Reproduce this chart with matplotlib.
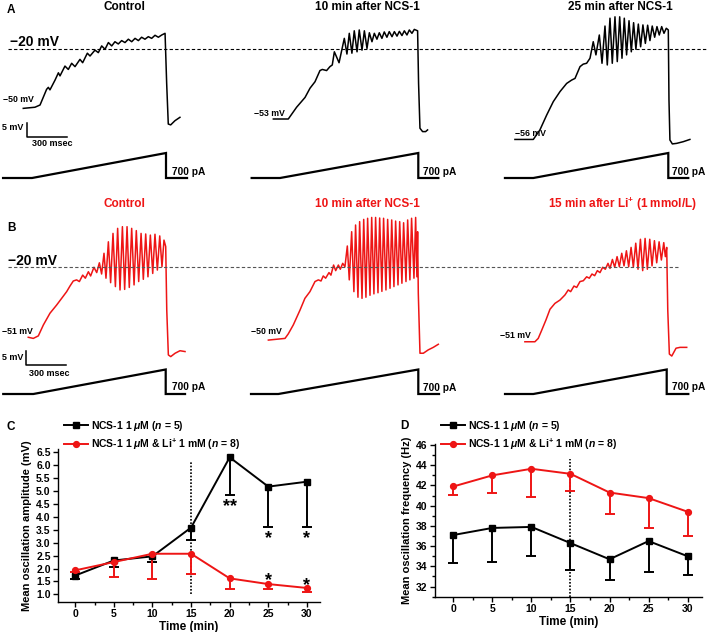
import matplotlib
matplotlib.use('Agg')
import matplotlib.pyplot as plt
from matplotlib.lines import Line2D
import matplotlib.transforms as mtransforms
from matplotlib.ticker import MultipleLocator

plt.rcParams['font.family'] = ['Liberation Sans', 'DejaVu Sans']
plt.rcParams['font.weight'] = 'bold'
plt.rcParams['mathtext.fontset'] = 'custom'
plt.rcParams['mathtext.rm'] = 'Liberation Sans:bold'
plt.rcParams['mathtext.it'] = 'Liberation Sans:italic:bold'
plt.rcParams['mathtext.bf'] = 'Liberation Sans:bold'
plt.rcParams['axes.unicode_minus'] = True

# ------------------------------------------------------------------ data
# voltage traces: (time ms from ramp start, membrane potential mV)
A1 = [(-65, -41.2), (22, -40.8), (60, -40), (109, -34.4), (122, -33.7), (134, -34.6),
      (172, -31.1), (197, -28.5), (209, -29.6), (246, -26.1), (271, -27.3), (296, -25.1),
      (321, -26.3), (358, -23.7), (378, -24.9), (413, -21.5), (433, -22.5), (470, -20.4),
      (495, -21.3), (520, -18.9), (545, -20.1), (570, -17.7), (595, -18.9), (619, -17.4),
      (644, -18.2), (669, -17), (694, -17.7), (719, -16.5), (744, -17.4), (769, -16.2),
      (794, -17), (818, -15.8), (843, -16.5), (868, -15.6), (893, -16.2), (918, -15.1),
      (943, -15.8), (968, -15), (993, -14.4), (1005, -32.3), (1017, -46.8), (1035, -47.1),
      (1067, -45.6), (1104, -44.4)]
A2 = [(-48, -45), (60, -45), (120, -40.8), (181, -37.3), (217, -34), (253, -31.7),
      (289, -27.7), (306, -27.3), (337, -27.7), (361, -26.3), (378, -25.7),
      (393, -21), (427, -24.9), (465, -16.2), (484, -21.8), (501, -14.4), (520, -21.5),
      (537, -13.5), (557, -21), (573, -13.2), (593, -20.4), (610, -13.5), (629, -19.8),
      (646, -14.2), (665, -17.4), (682, -14.4), (701, -16.5), (718, -14.2), (737, -16.2),
      (754, -13.9), (773, -15.8), (790, -13.8), (810, -15.6), (827, -13.8), (846, -15.4),
      (863, -13.7), (882, -15.2), (899, -13.5), (918, -15), (935, -13.2), (954, -14.4),
      (971, -13), (995, -13.5), (1002, -32.3), (1012, -48.3), (1031, -49.5), (1053, -49.5),
      (1067, -48.9)]
A3 = [(-136, -52.3), (0, -52.3), (49, -48.9), (99, -43.6), (148, -38.8), (198, -35.2),
      (247, -32.3), (284, -31.1), (309, -30.5), (346, -26.3), (370, -25.4), (395, -25.1),
      (420, -23.3), (444, -17.4), (464, -22.1), (489, -15), (509, -25.1), (531, -11.8),
      (548, -25.7), (568, -9), (585, -25.1), (605, -8.5), (622, -24.5), (640, -8.5),
      (657, -23.3), (674, -9), (691, -22.1), (709, -9.9), (726, -21), (743, -10.6),
      (760, -20.1), (778, -11.1), (795, -19.2), (812, -11.4), (830, -18), (847, -11.5),
      (864, -17), (881, -11.8), (899, -15.8), (916, -12), (933, -15), (951, -12),
      (968, -14.4), (985, -12.6), (1000, -13.2), (1005, -38.2), (1012, -52.5), (1030, -53.9),
      (1062, -53.7), (1111, -53.1), (1160, -52.3)]
B1 = [(-38, -45.1), (0, -45.5), (38, -44.6), (76, -40.7), (126, -36.5), (176, -33.6),
      (214, -31.2), (252, -28.8), (277, -26.8), (302, -25), (327, -24.6), (348, -25.2),
      (373, -22.9), (393, -24), (416, -21.7), (433, -23.2), (458, -20.1), (479, -22),
      (499, -18.5), (516, -22.5), (534, -15.1), (549, -24), (567, -11), (584, -25.6),
      (602, -8), (620, -27), (637, -6.2), (655, -28.2), (673, -5.6), (690, -28),
      (708, -5.6), (725, -27.3), (743, -6.2), (761, -26.4), (778, -7), (796, -25.2),
      (814, -8), (831, -24.4), (849, -8.2), (866, -23.5), (884, -8.6), (902, -22.3),
      (919, -8.3), (937, -21.1), (955, -8.9), (972, -19.9), (987, -10.4), (1000, -12.7),
      (1008, -35.4), (1020, -51.4), (1038, -52), (1071, -50.8), (1108, -49.9), (1146, -50.2)]
B2 = [(-71, -46.1), (48, -45.5), (71, -43.9), (107, -40.7), (155, -35.4), (190, -31.2),
      (226, -28.8), (262, -25.2), (286, -24.6), (305, -25), (321, -23.2), (338, -24),
      (362, -22), (376, -22.9), (395, -19.3), (410, -21.3), (429, -19.3), (443, -20.8),
      (460, -18.7), (476, -19.9), (493, -12.5), (507, -24.6), (524, -7.4), (540, -28.8),
      (552, -5), (569, -30.8), (581, -3.8), (598, -31.2), (610, -3), (626, -30.8),
      (638, -2.6), (655, -30.1), (667, -2.3), (683, -29.6), (695, -2.3), (712, -29.2),
      (724, -2.5), (740, -28.7), (752, -2.6), (769, -28.2), (781, -3), (798, -27.6),
      (810, -3.2), (826, -27), (838, -3.6), (855, -26.4), (867, -3.8), (883, -25.8),
      (895, -4.2), (912, -25.2), (924, -3.2), (940, -24.6), (952, -2.6), (969, -24),
      (981, -2.3), (990, -23.5), (995, -7.4), (1000, -29.4), (1012, -50.8), (1036, -50.8),
      (1071, -49.6), (1107, -48.7), (1143, -47.6)]
B3 = [(-63, -46.7), (12, -46.7), (37, -45.5), (62, -42.7), (95, -38.9), (125, -35.1),
      (162, -33), (200, -31.8), (237, -30), (262, -28.2), (280, -28.8), (305, -26.8),
      (325, -27.3), (350, -25.2), (375, -24.9), (400, -23.5), (420, -24), (440, -22.5),
      (460, -23.1), (480, -21.3), (500, -22), (520, -20.1), (540, -20.8), (560, -18.7),
      (575, -20.5), (593, -17.3), (610, -20.1), (628, -16.3), (645, -19.9), (663, -15.1),
      (680, -19.6), (698, -14.2), (715, -19.9), (733, -13), (750, -20.1), (768, -11.5),
      (785, -20.8), (803, -10.1), (820, -21.3), (838, -9.8), (855, -20.8), (873, -10.1),
      (890, -19.6), (908, -10.6), (925, -18.5), (943, -11), (960, -17.5), (978, -11.3),
      (990, -16.3), (1000, -13), (1008, -35.4), (1020, -51.1), (1038, -51.8), (1070, -49),
      (1100, -48.7), (1150, -48.7)]

# injected current ramp (pA): start of record, ramp 0 -> 1000 ms, end of record
ramp_peak_pA = 700
ramp_dur_ms = 1000
cur_start = {'A1': -216, 'A2': -205, 'A3': -210, 'B1': -227, 'B2': -195, 'B3': -212}
cur_end = {'A1': 1157, 'A2': 1145, 'A3': 1148, 'B1': 1146, 'B2': 1148, 'B3': 1162}

titles_A = ['Control', '10 min after NCS-1', '25 min after NCS-1']
titles_B = ['Control', '10 min after NCS-1', '15 min after Li$^{+}$ (1 mmol/L)']
rest_labels = {'A1': '\u221250 mV', 'A2': '\u221253 mV', 'A3': '\u221256 mV',
               'B1': '\u221251 mV', 'B2': '\u221250 mV', 'B3': '\u221251 mV'}

time_min = [0, 5, 10, 15, 20, 25, 30]
amp_ncs = [1.73, 2.31, 2.47, 3.58, 6.29, 5.16, 5.35]
amp_ncs_low = [1.60, 2.05, 2.25, 3.10, 4.85, 3.60, 3.60]
amp_li = [1.93, 2.25, 2.57, 2.57, 1.62, 1.40, 1.25]
amp_li_low = [1.85, 1.68, 1.58, 1.80, 1.22, 1.20, 1.10]
freq_ncs = [37.1, 37.8, 37.9, 36.3, 34.7, 36.5, 35.0]
freq_ncs_low = [34.3, 34.4, 35.0, 33.6, 32.7, 33.4, 33.1]
freq_li = [41.9, 43.0, 43.65, 43.15, 41.3, 40.75, 39.4]
freq_li_low = [41.1, 41.3, 40.9, 41.5, 39.2, 37.8, 37.0]
label_ncs = 'NCS-1 1 $\\mu$M ($n$ = 5)'
label_li = 'NCS-1 1 $\\mu$M & Li$^{+}$ 1 mM ($n$ = 8)'

# ------------------------------------------------------------------ layout helpers
W, H = 709, 632
RED = '#ee1515'
fig = plt.figure(figsize=(W / 100, H / 100), dpi=100)


def px_axes(left, top, width, height):
    return fig.add_axes([left / W, 1 - (top + height) / H, width / W, height / H])


def ftext(x, y, s, **kw):
    kw.setdefault('fontweight', 'bold')
    fig.text(x / W, 1 - y / H, s, **kw)


MV_PX = 2.8       # px per mV
XL = (-235, 1200)
panels = {
    'A1': dict(x0=32.0, s=0.134, yline=49, base=178, k=0.0357, color='black', data=A1),
    'A2': dict(x0=280.0, s=0.1383, yline=49, base=178, k=0.0357, color='black', data=A2),
    'A3': dict(x0=533.3, s=0.135, yline=49, base=178, k=0.0357, color='black', data=A3),
    'B1': dict(x0=33.3, s=0.1324, yline=267, base=394, k=0.035, color=RED, data=B1),
    'B2': dict(x0=278.3, s=0.140, yline=267, base=394, k=0.035, color=RED, data=B2),
    'B3': dict(x0=533.3, s=0.1334, yline=267, base=394, k=0.035, color=RED, data=B3),
}
axes_v = {}
for name, p in panels.items():
    left = p['x0'] + XL[0] * p['s']
    width = (XL[1] - XL[0]) * p['s']
    axv = px_axes(left, p['yline'] - 20 * MV_PX, width, 58 * MV_PX)
    axv.set_xlim(*XL)
    axv.set_ylim(-58, 0)
    axv.axis('off')
    t = [d[0] for d in p['data']]
    v = [d[1] for d in p['data']]
    axv.plot(t, v, color=p['color'], lw=1.1, clip_on=False, solid_joinstyle='round')
    axes_v[name] = axv
    axc = px_axes(left, p['base'] - 900 * p['k'], width, 1100 * p['k'])
    axc.set_xlim(*XL)
    axc.set_ylim(-200, 900)
    axc.axis('off')
    ct = [cur_start[name], 0, ramp_dur_ms, ramp_dur_ms, cur_end[name]]
    cv = [0, 0, ramp_peak_pA, 0, 0]
    axc.plot(ct, cv, color='black', lw=1.6, clip_on=False, solid_joinstyle='miter')

# -20 mV dashed reference lines
for row, name, x1, col in [('A', 'A1', 706, 'black'), ('B', 'B1', 680, '#555555')]:
    tr = mtransforms.blended_transform_factory(fig.transFigure, axes_v[name].transData)
    fig.add_artist(Line2D([8 / W, x1 / W], [-20, -20], transform=tr, color=col,
                          lw=0.8, ls=(0, (3, 2))))

# scale bars (5 mV, 300 ms)
for name, t0, v0 in [('A1', -40, -51.3), ('B1', -55, -55.0)]:
    ax = axes_v[name]
    ax.plot([t0, t0, t0 + 300], [v0 + 5, v0, v0], color='black', lw=1.1, clip_on=False)

# texts of the trace panels
ftext(11, 10, 'A', fontsize=8.5, ha='center', va='center')
ftext(11, 228, 'B', fontsize=8.5, ha='center', va='center')
for x, s in zip([124, 367, 620], titles_A):
    ftext(x, 7, s, fontsize=8.5, ha='center', va='center')
for x, s in zip([124, 367, 623], titles_B):
    ftext(x, 204, s, fontsize=8.5, ha='center', va='center', color=RED)
ftext(10, 42.5, '\u221220 mV', fontsize=10, ha='left', va='center')
ftext(8, 261, '\u221220 mV', fontsize=10, ha='left', va='center')
for name, (x, y) in {'A1': (3, 100), 'A2': (254, 114), 'A3': (515, 134),
                     'B1': (2, 332), 'B2': (251, 332), 'B3': (500, 336)}.items():
    ftext(x, y, rest_labels[name], fontsize=6.3, ha='left', va='center')
for x, y in [(172, 172), (423, 172), (672, 172), (172, 387), (423, 388), (672, 387)]:
    ftext(x, y, '700 pA', fontsize=7.3, ha='left', va='center')
ftext(23, 128, '5 mV', fontsize=6.5, ha='right', va='center')
ftext(32, 144, '300 msec', fontsize=6.5, ha='left', va='center')
ftext(23, 357, '5 mV', fontsize=6.5, ha='right', va='center')
ftext(29, 373, '300 msec', fontsize=6.5, ha='left', va='center')


# ------------------------------------------------------------------ panels C and D
def style_axes(ax):
    for sp in ['top', 'right']:
        ax.spines[sp].set_visible(False)
    for sp in ['left', 'bottom']:
        ax.spines[sp].set_linewidth(1.0)
    ax.tick_params(which='major', direction='out', length=3.5, width=1.0, labelsize=7.5, pad=2)
    ax.tick_params(which='minor', direction='out', length=2, width=1.0)
    for lab in ax.get_xticklabels() + ax.get_yticklabels():
        lab.set_fontweight('bold')


def draw_series(ax, y, low, color, marker, ms, label):
    ax.vlines(time_min, low, y, color=color, lw=1.4, zorder=2)
    ax.plot(time_min, low, ls='none', marker='_', markersize=7, mew=1.4, color=color, zorder=2)
    return ax.plot(time_min, y, color=color, lw=1.4, marker=marker, markersize=ms,
                   label=label, zorder=3)[0]


axC = px_axes(58.3, 449.3, 261.7, 152.4)
axC.set_xlim(-2.2, 31.7)
axC.set_ylim(0.72, 6.6)
axC.axvline(15, ymin=(1.0 - 0.72) / (6.6 - 0.72), ymax=(6.1 - 0.72) / (6.6 - 0.72),
            color='black', lw=1.2, ls=(0, (1, 1)), zorder=1)
hC1 = draw_series(axC, amp_ncs, amp_ncs_low, 'black', 's', 4, label_ncs)
hC2 = draw_series(axC, amp_li, amp_li_low, RED, 'o', 4.2, label_li)
axC.set_xticks(time_min)
axC.xaxis.set_minor_locator(MultipleLocator(2.5))
axC.set_yticks([1.0 + 0.5 * i for i in range(12)])
axC.set_yticklabels(['%.1f' % (1.0 + 0.5 * i) for i in range(12)])
style_axes(axC)
axC.set_xlabel('Time (min)', fontsize=8.5, fontweight='bold', labelpad=1)
axC.set_ylabel('Mean oscillation amplitude (mV)', fontsize=8, fontweight='bold', labelpad=3)
axC.text(20, 4.38, '**', fontsize=13, ha='center', va='center')
for x in [25, 30]:
    axC.text(x, 3.15, '*', fontsize=13, ha='center', va='center')
axC.text(25, 1.52, '*', fontsize=13, ha='center', va='center')
axC.text(30, 1.36, '*', fontsize=13, ha='center', va='center')
axC.legend(handles=[hC1, hC2], loc='upper left', bbox_to_anchor=(64 / W, 1 - 419 / H),
           bbox_transform=fig.transFigure, frameon=False, prop={'size': 7.5, 'weight': 'bold'},
           handlelength=2.3, handletextpad=0.25, labelspacing=0.35, borderpad=0,
           borderaxespad=0)
ftext(11, 427, 'C', fontsize=8.5, ha='center', va='center')

axD = px_axes(435, 444, 266.7, 152.7)
axD.set_xlim(-2.35, 31.8)
axD.set_ylim(31.0, 46.1)
axD.axvline(15, ymin=0, ymax=(44.6 - 31.0) / (46.1 - 31.0),
            color='black', lw=1.2, ls=(0, (1, 1)), zorder=1)
hD1 = draw_series(axD, freq_ncs, freq_ncs_low, 'black', 's', 4, label_ncs)
hD2 = draw_series(axD, freq_li, freq_li_low, RED, 'o', 4.2, label_li)
axD.set_xticks(time_min)
axD.xaxis.set_minor_locator(MultipleLocator(2.5))
axD.set_yticks(range(32, 47, 2))
axD.yaxis.set_minor_locator(MultipleLocator(1))
style_axes(axD)
axD.set_xlabel('Time (min)', fontsize=8.5, fontweight='bold', labelpad=1)
axD.set_ylabel('Mean oscillation frequency (Hz)', fontsize=8, fontweight='bold', labelpad=3)
axD.legend(handles=[hD1, hD2], loc='upper left', bbox_to_anchor=(441 / W, 1 - 419 / H),
           bbox_transform=fig.transFigure, frameon=False, prop={'size': 7.5, 'weight': 'bold'},
           handlelength=2.3, handletextpad=0.25, labelspacing=0.35, borderpad=0,
           borderaxespad=0)
ftext(404, 426, 'D', fontsize=8.5, ha='center', va='center')

fig.savefig('out.png', dpi=100)
